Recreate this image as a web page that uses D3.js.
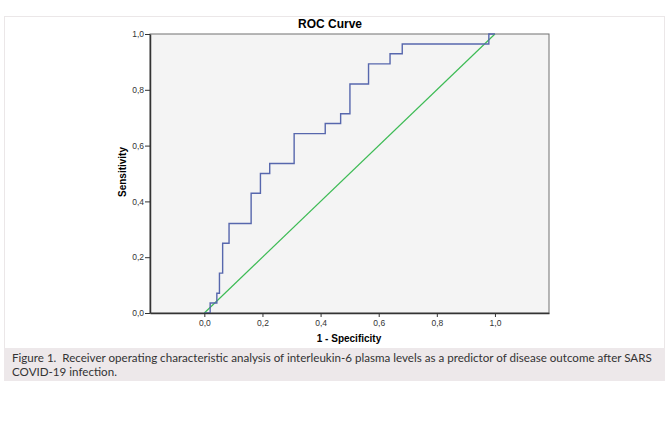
<!DOCTYPE html>
<html>
<script src='https://d3js.org/d3.v7.min.js'></script>
<style>
 body {margin:0; background:#fff;}
 text {font-family: 'Liberation Sans', Arial, sans-serif;}
 .cap {font-family: Lato, 'Noto Sans', sans-serif; font-size:11.6px; fill:#333; white-space: pre;}
</style>
<body onload='init()'>
<svg width=671 height=431></svg>
<script>

// 1 - specificity at each corner of the step curve
var fpr = [0, 0.02, 0.043, 0.052, 0.063, 0.085, 0.161, 0.193, 0.225, 0.309,
           0.416, 0.469, 0.501, 0.565, 0.639, 0.681, 0.979, 1.0];
// sensitivity at each corner
var sens = [0, 0.036, 0.071, 0.143, 0.25, 0.321, 0.429, 0.5, 0.536, 0.643,
            0.679, 0.714, 0.821, 0.893, 0.929, 0.964, 1.0, 1.0];
var refLine = [0, 1];
var ticks = [0, 0.2, 0.4, 0.6, 0.8, 1.0];
var title = 'ROC Curve';
var xTitle = '1 - Specificity';
var yTitle = 'Sensitivity';
var caption = ['Figure 1.  Receiver operating characteristic analysis of interleukin-6 plasma levels as a predictor of disease outcome after SARS',
               'COVID-19 infection.'];

function init() {

 var svg = d3.select('svg');
 var fmt = function(d) { return d3.format('.1f')(d).replace('.', ','); };

 // outer frame and caption band
 svg.append('rect').attr('x', 4.5).attr('y', 16.5).attr('width', 660).attr('height', 364)
   .style('fill', '#fff').style('stroke', '#ebe7e8');
 svg.append('rect').attr('x', 4).attr('y', 348).attr('width', 661).attr('height', 33)
   .style('fill', '#ede8ea');
 svg.selectAll('.cap').data(caption).enter().append('text')
   .attr('class', 'cap')
   .attr('x', 12).attr('y', function (d, i) { return 362 + i * 13.5; })
   .text(function (d) { return d; });

 var x = d3.scaleLinear().domain([-0.187, 1.186]).range([150, 549]);
 var y = d3.scaleLinear().domain([0, 1]).range([313, 34]);

 svg.append('rect')
   .attr('x', x.range()[0]).attr('y', y.range()[1])
   .attr('width', x.range()[1] - x.range()[0]).attr('height', y.range()[0] - y.range()[1])
   .style('fill', '#f4f4f4').style('stroke', '#707070').style('stroke-width', 1);

 // diagonal reference
 svg.append('line')
   .attr('x1', x(refLine[0])).attr('y1', y(refLine[0]))
   .attr('x2', x(refLine[1])).attr('y2', y(refLine[1]))
   .style('stroke', '#3dbb55').style('stroke-width', 1.2);

 // ROC step curve
 var pts = fpr.map(function (d, i) { return [d, sens[i]]; });
 svg.append('path')
   .datum(pts)
   .attr('d', d3.line().x(function (d) { return x(d[0]); })
                        .y(function (d) { return y(d[1]); })
                        .curve(d3.curveStepAfter))
   .style('fill', 'none').style('stroke', '#5767ad').style('stroke-width', 1.4);

 var yAxis = svg.append('g')
   .attr('transform', 'translate(150,0)')
   .call(d3.axisLeft(y).tickValues(ticks).tickFormat(fmt).tickSize(5).tickSizeOuter(0));
 var xAxis = svg.append('g')
   .attr('transform', 'translate(0,313)')
   .call(d3.axisBottom(x).tickValues(ticks).tickFormat(fmt).tickSize(4).tickSizeOuter(0));
 [xAxis, yAxis].forEach(function (g) {
  g.select('.domain').style('stroke', '#333').style('stroke-width', 1.5);
  g.selectAll('.tick line').style('stroke', '#333');
  g.selectAll('.tick text').style('font-size', '8.5px').style('fill', '#333')
    .style('font-family', "'Liberation Sans', Arial, sans-serif");
 });
 xAxis.selectAll('.tick text').attr('y', 7);
 yAxis.selectAll('.tick text').attr('x', -6);

 svg.append('text').attr('x', 330).attr('y', 28).attr('text-anchor', 'middle')
   .style('font-size', '12px').style('font-weight', 'bold').text(title);
 svg.append('text').attr('x', 349).attr('y', 342).attr('text-anchor', 'middle')
   .style('font-size', '10px').style('font-weight', 'bold').text(xTitle);
 svg.append('text').attr('transform', 'translate(126,172) rotate(-90)')
   .attr('text-anchor', 'middle')
   .style('font-size', '10px').style('font-weight', 'bold').text(yTitle);
}

</script>
</body>
</html>
